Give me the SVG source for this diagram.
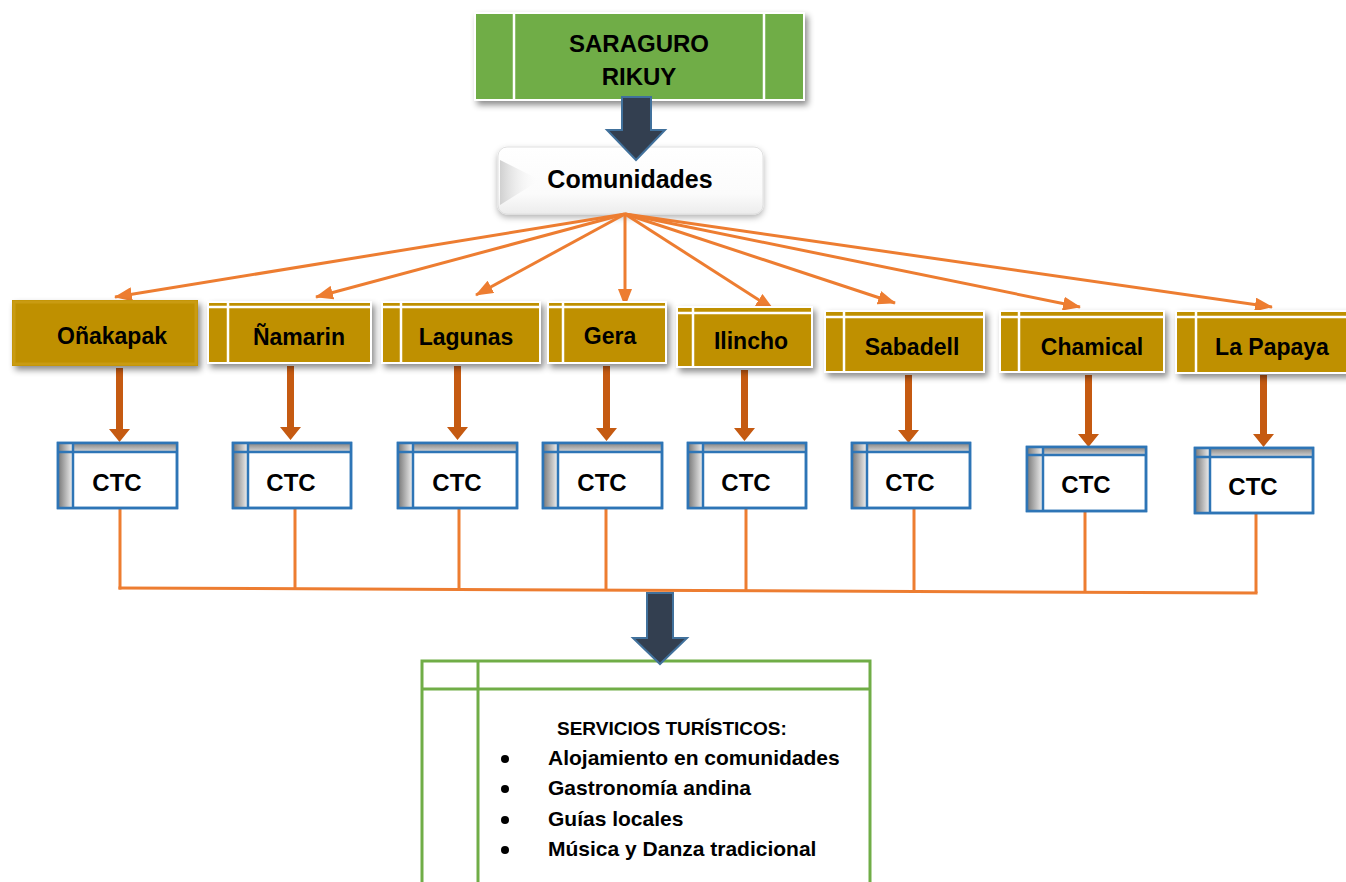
<svg xmlns="http://www.w3.org/2000/svg" width="1346" height="882" viewBox="0 0 1346 882">
<defs>
<style>
text{font-family:"Liberation Sans",Arial,sans-serif;font-weight:bold;fill:#000;text-anchor:middle}
.gold{fill:#BF9000;stroke:#fff;stroke-width:2}
.wl{stroke:#fff;stroke-width:2.5;fill:none}
.ctc{fill:#fff;stroke:#2E75B6;stroke-width:2.5}
.ctco{fill:none;stroke:#2E75B6;stroke-width:2.5}
.bl{stroke:#2E75B6;stroke-width:2.5;fill:none}
.fan{stroke:#ED7D31;stroke-width:3;fill:none}
.con{stroke:#ED7D31;stroke-width:3;fill:none}
.brown{fill:#C55A11}
.dark{fill:#333F50;stroke:#41719C;stroke-width:2}
.lab{font-size:23px}
.ctct{font-size:24px}
.srv{font-size:19px;text-anchor:start}
.item{font-size:21px;text-anchor:start}
</style>
<filter id="sh" x="-10%" y="-10%" width="125%" height="140%">
<feDropShadow dx="3" dy="4" stdDeviation="3" flood-color="#000" flood-opacity="0.45"/>
</filter>
<filter id="sh2" x="-10%" y="-10%" width="125%" height="140%">
<feDropShadow dx="0" dy="3" stdDeviation="3" flood-color="#000" flood-opacity="0.3"/>
</filter>
<linearGradient id="gl" x1="0" y1="0" x2="1" y2="0">
<stop offset="0" stop-color="#7f7f7f"/><stop offset="1" stop-color="#f2f2f2"/>
</linearGradient>
<linearGradient id="gt" x1="0" y1="0" x2="0" y2="1">
<stop offset="0" stop-color="#8c8c8c"/><stop offset="1" stop-color="#d9d9d9"/>
</linearGradient>
<linearGradient id="gw" x1="0" y1="0" x2="0" y2="1">
<stop offset="0" stop-color="#ffffff"/><stop offset="0.7" stop-color="#fbfbfb"/><stop offset="1" stop-color="#ececec"/>
</linearGradient>
<linearGradient id="gs" x1="0" y1="0" x2="1" y2="0">
<stop offset="0" stop-color="#d0d0d0"/><stop offset="1" stop-color="#ffffff" stop-opacity="0"/>
</linearGradient>
<marker id="ah" markerUnits="userSpaceOnUse" markerWidth="18" markerHeight="14" refX="17" refY="7" orient="auto">
<path d="M0,0 L18,7 L0,14 Z" fill="#ED7D31"/>
</marker>
</defs>

<g id="saraguro">
<rect x="475" y="13" width="329" height="87" fill="#70AD47" stroke="#fff" stroke-width="2" filter="url(#sh)"/>
<line class="wl" x1="514" y1="13" x2="514" y2="100"/>
<line class="wl" x1="764" y1="13" x2="764" y2="100"/>
<text x="639" y="52" style="font-size:24px">SARAGURO</text>
<text x="639" y="85" style="font-size:24px">RIKUY</text>
</g>

<g id="comunidades">
<rect x="498" y="147" width="265" height="67" rx="9" fill="url(#gw)" stroke="#e0e0e0" stroke-width="1" filter="url(#sh2)"/>
<path d="M500,160 L540,180 L500,205 Z" fill="url(#gs)"/>
<text x="630" y="188" style="font-size:25px">Comunidades</text>
</g>

<g id="connectors">
<path class="dark" d="M622,97 L651,97 L651,130 L665,130 L636,160 L607,130 L622,130 Z"/>
<line class="fan" x1="625" y1="214" x2="115" y2="297" marker-end="url(#ah)"/>
<line class="fan" x1="625" y1="214" x2="316" y2="297" marker-end="url(#ah)"/>
<line class="fan" x1="625" y1="214" x2="476" y2="295" marker-end="url(#ah)"/>
<line class="fan" x1="625" y1="214" x2="625" y2="306" marker-end="url(#ah)"/>
<line class="fan" x1="625" y1="214" x2="773" y2="309" marker-end="url(#ah)"/>
<line class="fan" x1="625" y1="214" x2="895" y2="303" marker-end="url(#ah)"/>
<line class="fan" x1="625" y1="214" x2="1080" y2="307" marker-end="url(#ah)"/>
<line class="fan" x1="625" y1="214" x2="1272" y2="307" marker-end="url(#ah)"/>

<path class="brown" d="M116,368 h7 v61 h7 l-10.5,13 l-10.5,-13 h7 Z"/>
<path class="brown" d="M287,366 h7 v61 h7 l-10.5,13 l-10.5,-13 h7 Z"/>
<path class="brown" d="M454,366 h7 v61 h7 l-10.5,13 l-10.5,-13 h7 Z"/>
<path class="brown" d="M603,366 h7 v62 h7 l-10.5,13 l-10.5,-13 h7 Z"/>
<path class="brown" d="M741,370 h7 v58 h7 l-10.5,13 l-10.5,-13 h7 Z"/>
<path class="brown" d="M905,375 h7 v55 h7 l-10.5,13 l-10.5,-13 h7 Z"/>
<path class="brown" d="M1085,375 h7 v59 h7 l-10.5,13 l-10.5,-13 h7 Z"/>
<path class="brown" d="M1260,375 h7 v59 h7 l-10.5,13 l-10.5,-13 h7 Z"/>

<line class="con" x1="120" y1="505" x2="120" y2="589.5"/>
<line class="con" x1="295" y1="508" x2="295" y2="590"/>
<line class="con" x1="459" y1="508" x2="459" y2="591"/>
<line class="con" x1="606" y1="508" x2="606" y2="591"/>
<line class="con" x1="746" y1="508" x2="746" y2="592"/>
<line class="con" x1="914" y1="508" x2="914" y2="592"/>
<line class="con" x1="1085" y1="511" x2="1085" y2="593"/>
<line class="con" x1="1256" y1="512" x2="1256" y2="593"/>
<line class="con" x1="118.5" y1="588" x2="1257.5" y2="593"/>
</g>

<g id="onakapak">
<rect x="12" y="300" width="186" height="66" fill="#BF9000" filter="url(#sh)"/>
<rect x="14" y="302" width="182" height="62" fill="none" stroke="#C99B12" stroke-width="3"/>
<text class="lab" x="112" y="344">Oñakapak</text>
</g>
<g id="namarin">
<rect class="gold" x="208" y="302" width="163" height="61" filter="url(#sh)"/>
<line class="wl" x1="228" y1="302" x2="228" y2="363"/>
<line class="wl" x1="208" y1="307" x2="371" y2="307"/>
<text class="lab" x="299" y="345">Ñamarin</text>
</g>
<g id="lagunas">
<rect class="gold" x="382" y="302" width="158" height="61" filter="url(#sh)"/>
<line class="wl" x1="401" y1="302" x2="401" y2="363"/>
<line class="wl" x1="382" y1="307" x2="540" y2="307"/>
<text class="lab" x="466" y="345">Lagunas</text>
</g>
<g id="gera">
<rect class="gold" x="548" y="302" width="118" height="61" filter="url(#sh)"/>
<line class="wl" x1="563" y1="302" x2="563" y2="363"/>
<line class="wl" x1="548" y1="307" x2="666" y2="307"/>
<text class="lab" x="610" y="344">Gera</text>
</g>
<g id="ilincho">
<rect class="gold" x="677" y="307" width="135" height="60" filter="url(#sh)"/>
<line class="wl" x1="693" y1="307" x2="693" y2="367"/>
<line class="wl" x1="677" y1="313" x2="812" y2="313"/>
<text class="lab" x="751" y="349">Ilincho</text>
</g>
<g id="sabadell">
<rect class="gold" x="825" y="311" width="159" height="61" filter="url(#sh)"/>
<line class="wl" x1="844" y1="311" x2="844" y2="372"/>
<line class="wl" x1="825" y1="317" x2="984" y2="317"/>
<text class="lab" x="912" y="355">Sabadell</text>
</g>
<g id="chamical">
<rect class="gold" x="1000" y="311" width="164" height="61" filter="url(#sh)"/>
<line class="wl" x1="1019" y1="311" x2="1019" y2="372"/>
<line class="wl" x1="1000" y1="317" x2="1164" y2="317"/>
<text class="lab" x="1092" y="355">Chamical</text>
</g>
<g id="lapapaya">
<rect class="gold" x="1176" y="311" width="172" height="62" filter="url(#sh)"/>
<line class="wl" x1="1196" y1="311" x2="1196" y2="373"/>
<line class="wl" x1="1176" y1="317" x2="1346" y2="317"/>
<text class="lab" x="1272" y="355">La Papaya</text>
</g>

<g id="ctc1">
<rect class="ctc" x="58" y="443" width="119" height="65"/>
<rect x="59" y="444" width="14" height="63" fill="url(#gl)"/>
<rect x="73" y="444" width="103" height="8" fill="url(#gt)"/>
<line class="bl" x1="73" y1="443" x2="73" y2="508"/><line class="bl" x1="58" y1="452" x2="177" y2="452"/>
<rect class="ctco" x="58" y="443" width="119" height="65"/>
<text class="ctct" x="117" y="491">CTC</text>
</g>
<g id="ctc2">
<rect class="ctc" x="233" y="443" width="118" height="65"/>
<rect x="234" y="444" width="14" height="63" fill="url(#gl)"/>
<rect x="248" y="444" width="102" height="8" fill="url(#gt)"/>
<line class="bl" x1="248" y1="443" x2="248" y2="508"/><line class="bl" x1="233" y1="452" x2="351" y2="452"/>
<rect class="ctco" x="233" y="443" width="118" height="65"/>
<text class="ctct" x="291" y="491">CTC</text>
</g>
<g id="ctc3">
<rect class="ctc" x="398" y="443" width="119" height="65"/>
<rect x="399" y="444" width="14" height="63" fill="url(#gl)"/>
<rect x="413" y="444" width="103" height="8" fill="url(#gt)"/>
<line class="bl" x1="413" y1="443" x2="413" y2="508"/><line class="bl" x1="398" y1="452" x2="517" y2="452"/>
<rect class="ctco" x="398" y="443" width="119" height="65"/>
<text class="ctct" x="457" y="491">CTC</text>
</g>
<g id="ctc4">
<rect class="ctc" x="543" y="443" width="119" height="65"/>
<rect x="544" y="444" width="14" height="63" fill="url(#gl)"/>
<rect x="558" y="444" width="103" height="8" fill="url(#gt)"/>
<line class="bl" x1="558" y1="443" x2="558" y2="508"/><line class="bl" x1="543" y1="452" x2="662" y2="452"/>
<rect class="ctco" x="543" y="443" width="119" height="65"/>
<text class="ctct" x="602" y="491">CTC</text>
</g>
<g id="ctc5">
<rect class="ctc" x="688" y="443" width="118" height="65"/>
<rect x="689" y="444" width="14" height="63" fill="url(#gl)"/>
<rect x="703" y="444" width="102" height="8" fill="url(#gt)"/>
<line class="bl" x1="703" y1="443" x2="703" y2="508"/><line class="bl" x1="688" y1="452" x2="806" y2="452"/>
<rect class="ctco" x="688" y="443" width="118" height="65"/>
<text class="ctct" x="746" y="491">CTC</text>
</g>
<g id="ctc6">
<rect class="ctc" x="852" y="443" width="118" height="65"/>
<rect x="853" y="444" width="14" height="63" fill="url(#gl)"/>
<rect x="867" y="444" width="102" height="8" fill="url(#gt)"/>
<line class="bl" x1="867" y1="443" x2="867" y2="508"/><line class="bl" x1="852" y1="452" x2="970" y2="452"/>
<rect class="ctco" x="852" y="443" width="118" height="65"/>
<text class="ctct" x="910" y="491">CTC</text>
</g>
<g id="ctc7">
<rect class="ctc" x="1027" y="447" width="119" height="64"/>
<rect x="1028" y="448" width="15" height="62" fill="url(#gl)"/>
<rect x="1043" y="448" width="102" height="7" fill="url(#gt)"/>
<line class="bl" x1="1043" y1="447" x2="1043" y2="511"/><line class="bl" x1="1027" y1="455" x2="1146" y2="455"/>
<rect class="ctco" x="1027" y="447" width="119" height="64"/>
<text class="ctct" x="1086" y="493">CTC</text>
</g>
<g id="ctc8">
<rect class="ctc" x="1195" y="448" width="118" height="65"/>
<rect x="1196" y="449" width="14" height="63" fill="url(#gl)"/>
<rect x="1210" y="449" width="102" height="8" fill="url(#gt)"/>
<line class="bl" x1="1210" y1="448" x2="1210" y2="513"/><line class="bl" x1="1195" y1="457" x2="1313" y2="457"/>
<rect class="ctco" x="1195" y="448" width="118" height="65"/>
<text class="ctct" x="1253" y="495">CTC</text>
</g>

<g id="servicios">
<rect x="422" y="661" width="448" height="240" fill="#fff" stroke="#70AD47" stroke-width="3"/>
<line x1="422" y1="689" x2="870" y2="689" stroke="#70AD47" stroke-width="3"/>
<line x1="478" y1="661" x2="478" y2="882" stroke="#70AD47" stroke-width="3"/>
<text class="srv" x="557" y="735">SERVICIOS TURÍSTICOS:</text>
<circle cx="505" cy="759" r="4"/>
<circle cx="505" cy="789" r="4"/>
<circle cx="505" cy="820" r="4"/>
<circle cx="505" cy="850" r="4"/>
<text class="item" x="548" y="765">Alojamiento en comunidades</text>
<text class="item" x="548" y="795">Gastronomía andina</text>
<text class="item" x="548" y="826">Guías locales</text>
<text class="item" x="548" y="856">Música y Danza tradicional</text>
</g>

<g id="arrow-down">
<path class="dark" d="M647,593 L673,593 L673,638 L687,638 L660,664 L633,638 L647,638 Z"/>
</g>
</svg>
